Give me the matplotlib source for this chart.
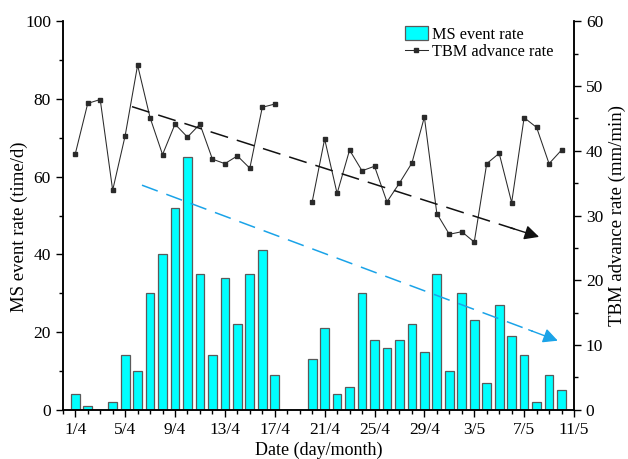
import numpy as np
import matplotlib
matplotlib.use("Agg")
import matplotlib.pyplot as plt
from matplotlib.patches import Patch
from matplotlib.lines import Line2D

plt.rcParams['font.family'] = ['Liberation Serif', 'DejaVu Serif']

# day labels, one every 4 days from 1/4 to 11/5
tick_labels = ["1/4", "5/4", "9/4", "13/4", "17/4", "21/4", "25/4",
               "29/4", "3/5", "7/5", "11/5"]

# MS event rate per day, 1/4 .. 10/5
ms_rate = [4, 1, 0, 2, 14, 10, 30, 40, 52, 65, 35, 14, 34, 22, 35, 41, 9,
           0, 0, 13, 21, 4, 6, 30, 18, 16, 18, 22, 15, 35, 10, 30, 23, 7,
           27, 19, 14, 2, 9, 5]

# TBM advance rate per day (nan = no record)
tbm_rate = [39.5, 47.3, 47.9, 33.9, 42.3, 53.2, 45.1, 39.4, 44.1, 42.1,
            44.1, 38.7, 38.0, 39.2, 37.3, 46.7, 47.2, np.nan, np.nan,
            32.1, 41.8, 33.4, 40.1, 36.9, 37.6, 32.1, 35.0, 38.1, 45.2,
            30.3, 27.1, 27.5, 25.9, 38.0, 39.6, 32.0, 45.1, 43.6, 38.0, 40.1]

# trend arrows (day index, value)
ms_trend = [(5.35, 57.8), (38.7, 17.8)]
tbm_trend = [(4.55, 46.8), (37.2, 26.7)]

days = np.arange(len(ms_rate))

fig = plt.figure(figsize=(6.28, 4.59), dpi=100)
ax = fig.add_axes([0.100, 0.107, 0.814, 0.847])
ax2 = ax.twinx()

ax.bar(days, ms_rate, width=0.7, color='#00FFFF', edgecolor='#5a5a5a',
       linewidth=0.9, zorder=2)
ax2.plot(days, tbm_rate, color='#2a2a2a', linewidth=0.75, marker='s',
         markersize=2.2, zorder=3)


def trend_arrow(a, pts, color, dashes):
    (x0, y0), (x1, y1) = pts
    fr = 0.94
    a.plot([x0, x0 + (x1 - x0) * fr], [y0, y0 + (y1 - y0) * fr],
           color=color, linewidth=1.1, dashes=dashes, zorder=4)
    a.annotate("", xy=(x1, y1),
               xytext=(x0 + (x1 - x0) * 0.93, y0 + (y1 - y0) * 0.93),
               arrowprops=dict(arrowstyle='-|>', color=color, lw=1,
                               mutation_scale=22, shrinkA=0, shrinkB=0),
               zorder=4)


trend_arrow(ax, ms_trend, '#1AA3E8', (11, 6))
trend_arrow(ax2, tbm_trend, '#111111', (12, 6))

ax.set_xlim(-1, 40)
ax.set_ylim(0, 100)
ax2.set_ylim(0, 60)

ax.set_xticks(np.arange(0, 41, 4))
ax.set_xticklabels(tick_labels)
ax.set_xticks(np.arange(-1, 41, 1), minor=True)
ax.set_yticks(np.arange(0, 101, 20))
ax.set_yticks(np.arange(0, 101, 10), minor=True)
ax2.set_yticks(np.arange(0, 61, 10))
ax2.set_yticks(np.arange(0, 61, 5), minor=True)

for a in (ax, ax2):
    a.spines['top'].set_visible(False)
    a.tick_params(which='major', length=5, width=1, labelsize=12.5)
    a.tick_params(which='minor', length=3, width=1)
    for s in a.spines.values():
        s.set_linewidth(1.1)

ax.set_xlabel("Date (day/month)", fontsize=13, labelpad=3)
ax.set_ylabel("MS event rate (time/d)", fontsize=13.5)
ax.yaxis.set_label_coords(-0.068, 0.47)
ax2.set_ylabel("TBM advance rate (mm/min)", fontsize=13.5)

handles = [Patch(facecolor='#00FFFF', edgecolor='#5a5a5a', linewidth=0.9),
           Line2D([], [], color='#2a2a2a', linewidth=0.75, marker='s',
                  markersize=2.2)]
fig.legend(handles, ["MS event rate", "TBM advance rate"], loc='upper left',
           bbox_to_anchor=(0.645, 0.943), frameon=False, fontsize=11.7,
           handlelength=1.4, handleheight=0.92, handletextpad=0.25,
           labelspacing=0.05, borderpad=0, borderaxespad=0)

fig.savefig("out.png", dpi=100)
